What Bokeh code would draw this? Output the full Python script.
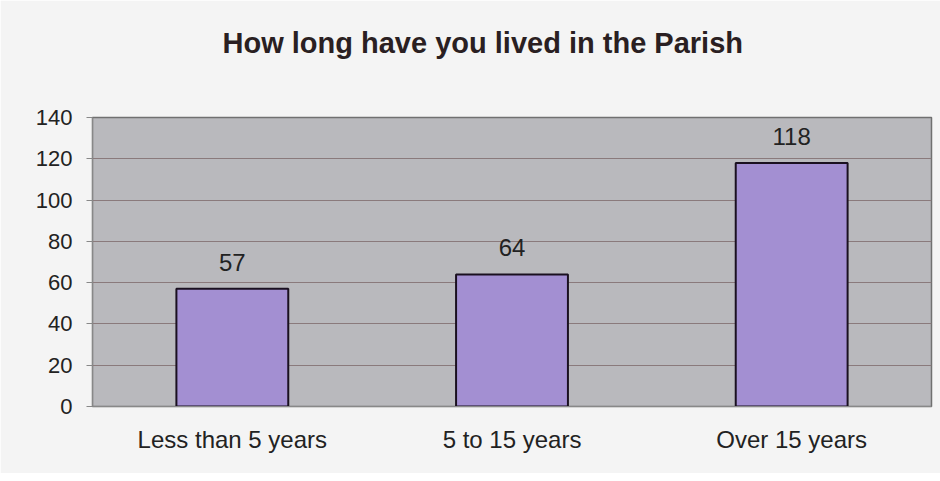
from bokeh.plotting import figure
from bokeh.models import ColumnDataSource, FixedTicker, Range1d, LabelSet, Title
from bokeh.core.properties import value
from bokeh.embed import file_html
from bokeh.resources import INLINE

title_text = "How long have you lived in the Parish"
categories = ["Less than 5 years", "5 to 15 years", "Over 15 years"]
counts = [57, 64, 118]
labels = [str(c) for c in counts]
y_ticks = [0, 20, 40, 60, 80, 100, 120, 140]

src = ColumnDataSource(dict(cat=categories, val=counts, lab=labels))

p = figure(x_range=categories, y_range=Range1d(0, 140), title=title_text,
           frame_width=839, frame_height=289,
           output_backend="svg", toolbar_location=None,
           min_border_left=92, min_border_right=9, min_border_bottom=67, min_border_top=117,
           background_fill_color="#b9b9bd", border_fill_color="#f4f4f4",
           outline_line_color="#707070", outline_line_width=1.5)

p.title.text_font = "Liberation Sans"
p.title.text_font_size = "29px"
p.title.text_font_style = "bold"
p.title.text_color = "#2a1f22"
p.title.align = "left"
p.title.offset = 130
p.title.standoff = 20

# spacer panel between the title and the plot frame
p.add_layout(Title(text=" ", text_font_size="12px", standoff=33), "above")

p.vbar(x="cat", top="val", width=0.40, source=src, fill_color="#a38fd2",
       line_color="#1a1020", line_width=2)

p.add_layout(LabelSet(x="cat", y="val", text="lab", source=src, y_offset=18,
                      text_align="center", text_baseline="bottom",
                      text_font=value("Liberation Sans"), text_font_size="24px",
                      text_color="#222222"))

p.yaxis.ticker = FixedTicker(ticks=y_ticks)
p.yaxis.major_label_text_font = "Liberation Sans"
p.yaxis.major_label_text_font_size = "22px"
p.yaxis.major_label_text_color = "#222222"
p.yaxis.axis_line_color = "#888888"
p.yaxis.major_tick_line_color = "#888888"
p.yaxis.major_tick_out = 6
p.yaxis.major_tick_in = 0
p.yaxis.minor_tick_line_color = None
p.yaxis.major_label_standoff = 14

p.xaxis.major_label_text_font = "Liberation Sans"
p.xaxis.major_label_text_font_size = "24px"
p.xaxis.major_label_text_color = "#222222"
p.xaxis.axis_line_color = "#888888"
p.xaxis.major_tick_line_color = None
p.xaxis.major_label_standoff = 13

p.xgrid.grid_line_color = None
p.ygrid.ticker = FixedTicker(ticks=y_ticks)
p.ygrid.grid_line_color = "#8a7a7c"
p.ygrid.grid_line_width = 1

open("out.html", "w").write(file_html(p, INLINE))
